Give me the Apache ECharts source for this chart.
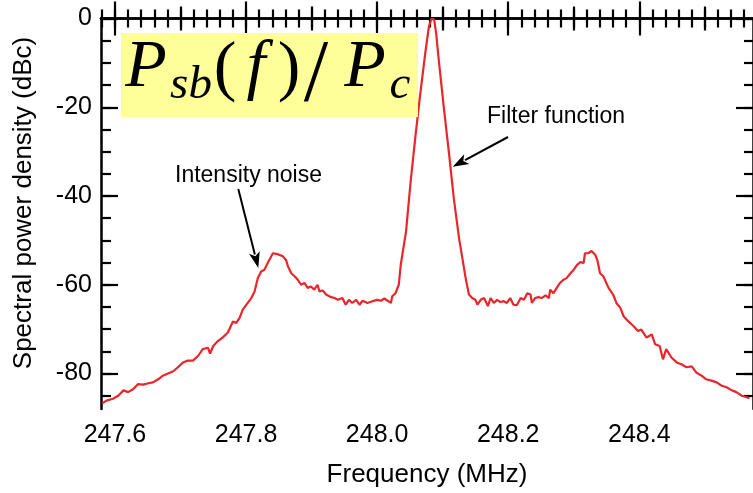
<!DOCTYPE html>
<html><head><meta charset="utf-8">
<script src="https://cdn.jsdelivr.net/npm/echarts@6/dist/echarts.min.js"></script>
<style>html,body{margin:0;padding:0;background:#fff;}#c{width:753px;height:493px;}</style>
</head><body><div id="c"></div>
<script>
// Frequency (MHz)
const freq = [
247.580, 247.587, 247.597, 247.605, 247.613, 247.620, 247.628, 247.635, 247.643, 247.651,
247.658, 247.666, 247.673, 247.681, 247.689, 247.696, 247.704, 247.711, 247.719, 247.727,
247.734, 247.742, 247.745, 247.750, 247.757, 247.765, 247.772, 247.780, 247.785, 247.790,
247.795, 247.800, 247.808, 247.813, 247.818, 247.823, 247.828, 247.833, 247.841, 247.848,
247.856, 247.861, 247.864, 247.869, 247.874, 247.879, 247.884, 247.889, 247.894, 247.899,
247.904, 247.909, 247.912, 247.917, 247.922, 247.930, 247.935, 247.940, 247.947, 247.952,
247.957, 247.962, 247.968, 247.973, 247.978, 247.985, 247.993, 248.000, 248.006, 248.011,
248.016, 248.021, 248.023, 248.028, 248.033, 248.036, 248.044, 248.051, 248.059, 248.066,
248.074, 248.079, 248.083, 248.087, 248.090, 248.094, 248.102, 248.110, 248.117, 248.125,
248.130, 248.135, 248.140, 248.145, 248.150, 248.153, 248.158, 248.163, 248.165, 248.169,
248.173, 248.178, 248.183, 248.188, 248.193, 248.198, 248.203, 248.208, 248.213, 248.219,
248.224, 248.229, 248.234, 248.236, 248.241, 248.246, 248.251, 248.257, 248.262, 248.264,
248.269, 248.274, 248.279, 248.284, 248.289, 248.295, 248.300, 248.305, 248.310, 248.315,
248.317, 248.322, 248.327, 248.333, 248.336, 248.340, 248.345, 248.353, 248.360, 248.365,
248.371, 248.376, 248.383, 248.391, 248.398, 248.403, 248.411, 248.419, 248.424, 248.431,
248.436, 248.441, 248.449, 248.457, 248.464, 248.472, 248.480, 248.487, 248.495, 248.502,
248.510, 248.518, 248.525, 248.533, 248.540, 248.548, 248.556, 248.563, 248.568
];
// Spectral power density (dBc)
const psd = [
-86.8, -86.1, -85.7, -85.0, -83.8, -84.2, -83.5, -82.4, -82.5, -82.2,
-82.0, -81.3, -80.5, -80.0, -79.5, -78.6, -77.5, -77.1, -77.1, -76.0,
-74.5, -74.2, -75.5, -73.8, -72.7, -71.8, -70.8, -68.3, -68.6, -67.5,
-65.6, -64.6, -63.0, -61.5, -58.5, -57.0, -56.6, -55.1, -52.9, -53.1,
-53.6, -54.4, -55.9, -57.4, -58.1, -58.9, -60.0, -59.6, -60.7, -60.4,
-61.1, -60.0, -61.5, -61.3, -62.2, -62.8, -63.0, -63.4, -63.0, -64.5,
-63.4, -64.1, -63.4, -64.5, -63.6, -64.1, -63.7, -63.4, -63.6, -63.1,
-63.6, -64.1, -62.6, -61.9, -60.0, -55.5, -48.1, -36.9, -25.7, -16.7,
-7.1, -1.8, 0.0, -0.3, -3.3, -9.3, -20.5, -30.9, -40.6, -49.6,
-54.0, -58.5, -62.2, -63.0, -63.4, -64.5, -63.4, -63.0, -62.6, -64.8,
-63.0, -64.1, -63.4, -63.9, -63.7, -64.1, -63.0, -64.5, -64.6, -63.0,
-63.4, -61.9, -62.2, -64.1, -63.0, -62.8, -63.0, -62.4, -63.0, -61.1,
-61.9, -60.7, -59.6, -58.9, -58.5, -57.4, -56.6, -55.5, -54.9, -55.1,
-52.9, -52.9, -52.4, -53.3, -54.5, -57.4, -58.1, -60.7, -62.2, -64.1,
-65.2, -67.1, -68.2, -69.3, -70.4, -70.1, -71.9, -71.2, -73.4, -73.8,
-76.8, -74.5, -76.4, -77.5, -77.9, -78.6, -78.4, -79.8, -80.5, -81.3,
-81.6, -82.0, -82.7, -83.1, -83.7, -84.2, -85.0, -85.3, -85.6
];
// Tick labels
const xTickLabels = [247.6, 247.8, 248.0, 248.2, 248.4];
const xMidTicks = [247.7, 247.9, 248.1, 248.3, 248.5];
const yTickLabels = [0, -20, -40, -60, -80];

const xMinorTicks = [];
for (let i = 0; i <= 49; i++) xMinorTicks.push(Math.round((247.58 + 0.02 * i) * 1000) / 1000);
const yMinorTicks = [];
for (let v = 0; v >= -85; v -= 5) yMinorTicks.push(v);

const X_MIN = 247.5787, X_MAX = 248.5734, Y_MIN = -88, Y_MAX = 0;
const FONT = "'Liberation Sans', Arial, Helvetica, sans-serif";
const AX = '#000';

function xAxis(pos, ticks, len, main, showLabel) {
  return {
    type: 'value', position: pos, min: X_MIN, max: X_MAX,
    axisLine: { show: main, lineStyle: { color: AX, width: 2.5 } },
    axisTick: { show: true, inside: true, length: len, customValues: ticks, lineStyle: { color: AX, width: 2.2 } },
    axisLabel: showLabel ? { show: true, customValues: xTickLabels, margin: 14, color: '#000', fontSize: 25, fontFamily: FONT,
      formatter: v => Number(v).toFixed(1) } : { show: false },
    splitLine: { show: false },
    name: showLabel ? 'Frequency (MHz)' : '',
    nameLocation: 'middle', nameGap: 53,
    nameTextStyle: { fontSize: 26, fontFamily: FONT, color: '#000' }
  };
}
function yAxis(pos, ticks, len, main, showLabel) {
  return {
    type: 'value', position: pos, min: Y_MIN, max: Y_MAX,
    axisLine: { show: main, lineStyle: { color: AX, width: 2.5 } },
    axisTick: { show: true, inside: true, length: len, customValues: ticks, lineStyle: { color: AX, width: 2.2 } },
    axisLabel: showLabel ? { show: true, customValues: yTickLabels, margin: 9, color: '#000', fontSize: 25, fontFamily: FONT } : { show: false },
    splitLine: { show: false }
  };
}

const chart = echarts.init(document.getElementById('c'), null, { renderer: 'canvas' });

function arrow(x1, y1, x2, y2) {
  const dx = x2 - x1, dy = y2 - y1, L = Math.hypot(dx, dy);
  const ux = dx / L, uy = dy / L, hl = 16, hw = 5.5;
  const bx = x2 - ux * hl, by = y2 - uy * hl;
  return [
    { type: 'line', z: 50, shape: { x1: x1, y1: y1, x2: bx + ux * 2, y2: by + uy * 2 }, style: { stroke: '#000', lineWidth: 2 } },
    { type: 'polygon', z: 50, shape: { points: [[x2, y2], [bx - uy * hw, by + ux * hw], [bx + ux * 4, by + uy * 4], [bx + uy * hw, by - ux * hw]] }, style: { fill: '#000' } }
  ];
}

const serif = '"Liberation Serif", "DejaVu Serif", serif';
function mtext(t, cx, y, size, italic) {
  return { type: 'text', z: 60, x: cx, y: y,
    style: { text: t, font: (italic ? 'italic ' : '') + size + 'px ' + serif, fill: '#000', textAlign: 'center', textVerticalAlign: 'middle' } };
}

const graphics = [
  { type: 'rect', z: 40, shape: { x: 121, y: 33, width: 297, height: 84 }, style: { fill: '#ffff99' } },
  mtext('P', 146, 68, 68, true),
  mtext('sb', 191, 86, 47, true),
  mtext('(', 225, 70, 68, false),
  mtext('f', 256, 69, 68, true),
  mtext(')', 289, 70, 68, false),
  mtext('/', 316, 77, 88, false),
  mtext('P', 365, 68, 68, true),
  mtext('c', 400, 86, 47, true),
  { type: 'text', z: 60, x: 24, y: 203, rotation: Math.PI / 2,
    style: { text: 'Spectral power density (dBc)', font: '26px ' + FONT, fill: '#000', textAlign: 'center', textVerticalAlign: 'middle' } },
  { type: 'text', z: 60, x: 248.5, y: 176, style: { text: 'Intensity noise', font: '23px ' + FONT, fill: '#000', textAlign: 'center', textVerticalAlign: 'middle' } },
  { type: 'text', z: 60, x: 487, y: 117, style: { text: 'Filter function', font: '23px ' + FONT, fill: '#000', textAlign: 'left', textVerticalAlign: 'middle' } }
].concat(arrow(238.3, 189, 258.3, 268)).concat(arrow(508, 137, 452.7, 166.7));

chart.setOption({
  animation: false,
  backgroundColor: '#fff',
  grid: { left: 101, right: -2, top: 18.5, bottom: 81, containLabel: false },
  xAxis: [
    xAxis('bottom', xTickLabels, 17, true, true),
    xAxis('bottom', xMidTicks, 12, false, false),
    xAxis('bottom', xMinorTicks, 9, false, false),
    xAxis('top', xTickLabels, 17, true, false),
    xAxis('top', xMidTicks, 12, false, false),
    xAxis('top', xMinorTicks, 9, false, false)
  ],
  yAxis: [
    yAxis('left', yTickLabels, 17, true, true),
    yAxis('left', yMinorTicks, 10, false, false),
    yAxis('right', yTickLabels, 17, true, false),
    yAxis('right', yMinorTicks, 9, false, false)
  ],
  series: [{
    type: 'line', xAxisIndex: 0, yAxisIndex: 0,
    data: freq.map((f, i) => [f, psd[i]]),
    showSymbol: false, symbol: 'none', smooth: false, clip: true,
    lineStyle: { color: '#e8262b', width: 2.2 }, z: 10
  }],
  graphic: graphics
});
</script>
</body></html>
